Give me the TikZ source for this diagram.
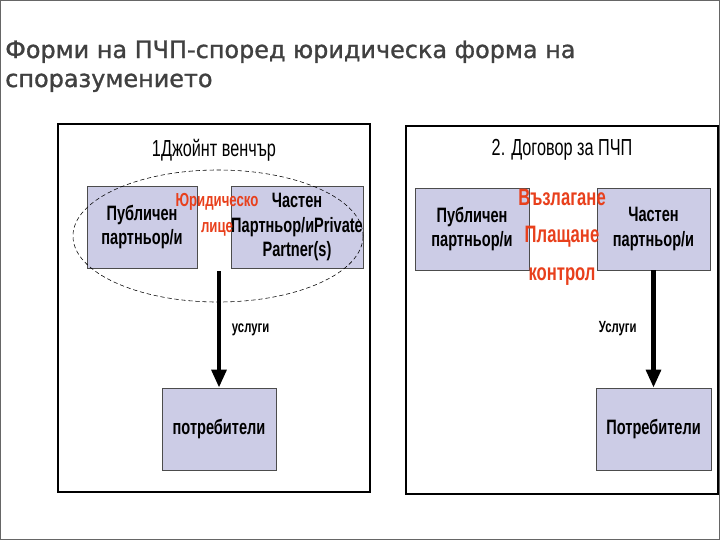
\documentclass[tikz,border=0pt]{standalone}
\usepackage{fontspec}
\setmainfont{Liberation Sans}[FakeStretch=0.7]
\newfontfamily\ttlfont{DejaVu Sans}[FakeBold=1.2]
\usetikzlibrary{arrows.meta,positioning,shapes.geometric}

\definecolor{boxfill}{RGB}{204,204,230}
\definecolor{redlbl}{RGB}{232,64,28}
\definecolor{ttlgrey}{RGB}{64,64,64}

\tikzset{
  partbox/.style={draw=black!70, fill=boxfill, minimum height=2.05cm, inner sep=0pt,
    align=center, font=\bfseries\fontsize{14.8}{17.7}\selectfont},
  paneltitle/.style={font=\fontsize{16.5}{18}\selectfont},
  redsmall/.style={text=redlbl, align=center, font=\bfseries\fontsize{13.4}{18.4}\selectfont},
  redbig/.style={text=redlbl, font=\bfseries\fontsize{16.9}{18}\selectfont},
  flowlbl/.style={font=\bfseries\fontsize{11.5}{13}\selectfont},
  flow/.style={line width=3.2pt, -{Triangle[width=0.36cm,length=0.45cm]}},
  panel/.style={line width=2.1pt, black},
  ttlline/.style={anchor=base west, inner sep=0pt, text=ttlgrey, font=\ttlfont\fontsize{17}{20}\selectfont}
}

\begin{document}
\begin{tikzpicture}[x=0.025cm, y=-0.025cm]
        \useasboundingbox (0,0) rectangle (720,540);
        \draw[black!60, line width=0.7pt] (0.5,0.5) rectangle (719.5,539.5);

        % title
        \node[ttlline] (ttl1) at (5,58) {Форми на ПЧП-според юридическа форма на};
        \node[ttlline] (ttl2) at (5,87) {споразумението};

        % panels
        \draw[panel] (58,124) rectangle (370,492);
        \draw[panel] (406,126) rectangle (718,494);

        \node[paneltitle] (jvtitle) at (214,150) {1Джойнт венчър};
        \node[paneltitle] (ctitle) at (562,150) {2. Договор за ПЧП};

        % 1. joint venture
        \node[partbox, minimum width=2.75cm] (pub1) at (142,227) {Публичен\\партньор/и};
        \node[partbox, minimum width=3cm] (priv1) at (297,227) {Частен\\Партньор/иPrivate\\Partner(s)};
        \node[redsmall] (legal) at (217,215) {Юридическо\\лице};
        \node[draw, dash pattern=on 3pt off 2pt, ellipse, minimum width=7.25cm, minimum height=3.3cm] (jv) at (218,236) {};
        \node[partbox, minimum width=2.85cm] (cons1) at (219,429) {потребители};

        \coordinate (jvout) at (219,271);
        \draw[flow] (jvout) -- (cons1.north) node[flowlbl, midway, right=0.15cm] (svc1) {услуги};

        % 2. contract
        \node[partbox, minimum width=2.85cm] (pub2) at (472,229) {Публичен\\партньор/и};
        \node[partbox, minimum width=2.825cm] (priv2) at (653.5,229) {Частен\\партньор/и};
        \node[redbig] (assign) at (562,197) {Възлагане};
        \node[redbig] (pay) at (562,237) {Плащане};
        \node[redbig] (ctrl) at (562,277) {контрол};
        \node[partbox, minimum width=2.875cm] (cons2) at (653.5,429) {Потребители};

        \draw[flow] (priv2.south) -- (cons2.north) node[flowlbl, midway, left=0.25cm] (svc2) {Услуги};

\end{tikzpicture}
\end{document}
